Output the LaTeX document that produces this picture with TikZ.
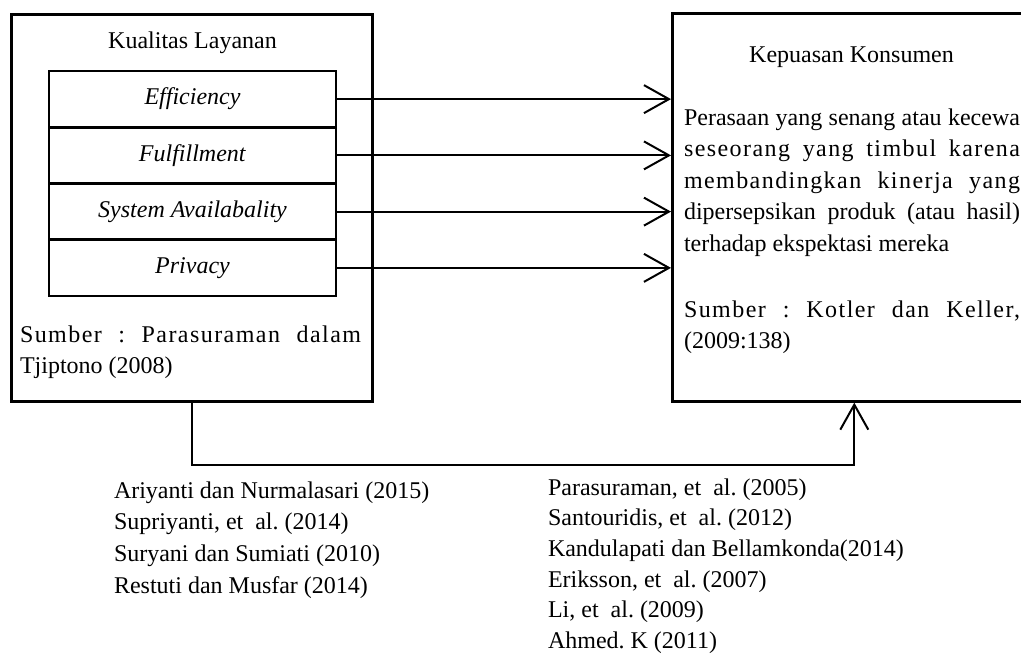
\documentclass[tikz,border=0pt]{standalone}
\usepackage{fontspec}
\setmainfont{Liberation Serif}
\usepackage{tikz}
\usetikzlibrary{arrows.meta}
\frenchspacing

% one justified line with a little tracking
\newcommand{\spreadline}[2]{\makebox[#1][s]{\addfontfeature{LetterSpace=6}#2}}

\begin{document}
\begin{tikzpicture}[x=0.5pt,y=-0.5pt,line width=1pt,
    >={Straight Barb[length=12.5pt,width=14pt]},
    font=\fontsize{12pt}{15.75pt}\selectfont,
    bigbox/.style={draw,line width=1.3pt,anchor=north west,inner sep=0pt},
    dimbox/.style={draw,line width=1.3pt,inner sep=0pt,minimum width=143.5pt,minimum height=28.125pt},
    textblock/.style={anchor=base west,inner sep=0pt,align=flush left}]
    \useasboundingbox (0,0) rectangle (1021,659);
    \clip (0,0) rectangle (1021,659);
    % Variables (frame of the right one runs past the page)
    \node[bigbox,minimum width=180.5pt,minimum height=193.5pt] (kualitas) at (10,13) {};
    \node[bigbox,minimum width=182pt,minimum height=194pt] (kepuasan) at (671,12) {};
    \node[anchor=base] (kualitastitle) at (192.5,48) {Kualitas Layanan};
    \node[anchor=base] (kepuasantitle) at (851.5,62) {Kepuasan Konsumen};
    % Dimensions of Kualitas Layanan
    \node[dimbox] (efficiency) at (192.5,99.125) {\textit{Efficiency}};
    \node[dimbox] (fulfillment) at (192.5,155.375) {\textit{Fulfillment}};
    \node[dimbox] (availability) at (192.5,211.625) {\textit{System Availabality}};
    \node[dimbox] (privacy) at (192.5,267.875) {\textit{Privacy}};
    % Sources and definition
    \node[textblock,text width=170.5pt] (kualitassumber) at (19,342)
        {\spreadline{170.5pt}{Sumber : Parasuraman dalam}\\Tjiptono (2008)};
    \node[textblock,text width=168pt] (kepuasandef) at (683,125)
        {\makebox[168pt][s]{Perasaan yang senang atau kecewa}\\
         \spreadline{168pt}{seseorang yang timbul karena}\\
         \spreadline{168pt}{membandingkan kinerja yang}\\
         \makebox[168pt][s]{dipersepsikan produk (atau hasil)}\\
         terhadap ekspektasi mereka\\[17.25pt]
         \spreadline{168pt}{Sumber : Kotler dan Keller,}\\
         (2009:138)};
    % Arrows
    \draw[->] (efficiency.east) -- (efficiency.east -| kepuasan.west);
    \draw[->] (fulfillment.east) -- (fulfillment.east -| kepuasan.west);
    \draw[->] (availability.east) -- (availability.east -| kepuasan.west);
    \draw[->] (privacy.east) -- (privacy.east -| kepuasan.west);
    \draw[->] (kualitas.south) -- ++(0,62) -| (kepuasan.south);
    % Earlier studies
    \node[textblock,text width=170pt,font=\fontsize{12pt}{15.85pt}\selectfont] (studileft) at (113,498)
        {Ariyanti dan Nurmalasari (2015)\\
         Supriyanti, et\ \ al. (2014)\\
         Suryani dan Sumiati (2010)\\
         Restuti dan Musfar (2014)};
    \node[textblock,text width=180pt,font=\fontsize{12pt}{15.35pt}\selectfont] (studiright) at (547,495)
        {Parasuraman, et\ \ al. (2005)\\
         Santouridis, et\ \ al. (2012)\\
         Kandulapati dan Bellamkonda(2014)\\
         Eriksson, et\ \ al. (2007)\\
         Li, et\ \ al. (2009)\\
         Ahmed. K (2011)};
\end{tikzpicture}
\end{document}
